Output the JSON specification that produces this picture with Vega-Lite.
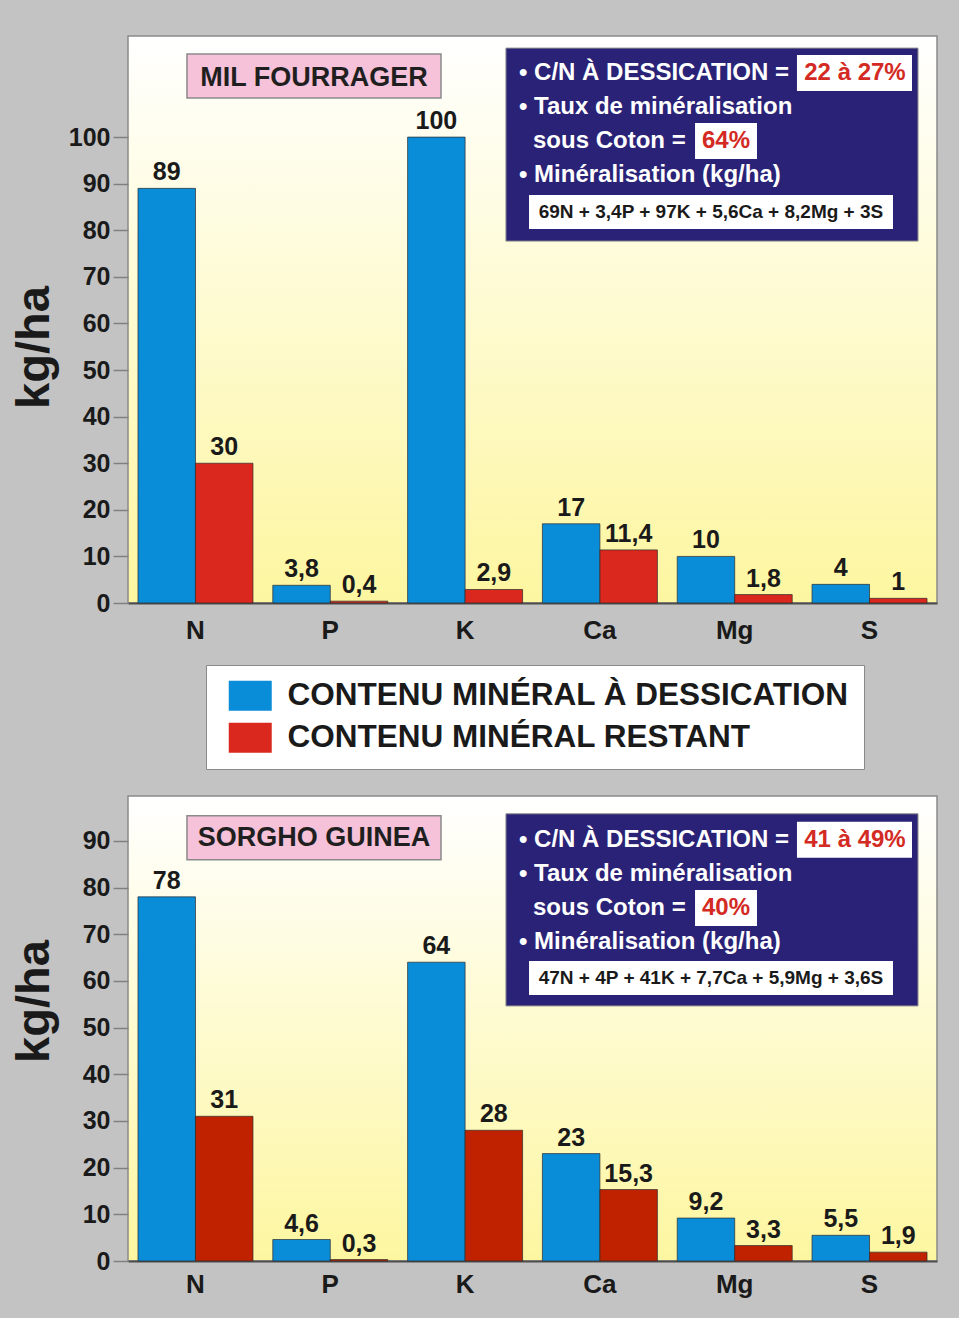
{
  "$schema": "https://vega.github.io/schema/vega-lite/v6.json",
  "background": "#c3c3c3",
  "padding": {"left": 9, "top": 35, "right": 22, "bottom": 22},
  "spacing": 193,
  "bounds": "flush",
  "config": {
    "view": {
      "fill": {"gradient": "linear", "x1": 0, "y1": 0, "x2": 0, "y2": 1,
        "stops": [{"offset": 0, "color": "#ffffff"}, {"offset": 1, "color": "#fdf6a0"}]},
      "stroke": "#8a8a8a", "strokeWidth": 1.5
    },
    "axis": {"labelFont": "Liberation Sans", "labelFontWeight": "bold", "labelColor": "#1a1a1a", "titleFont": "Liberation Sans", "titleColor": "#1a1a1a", "grid": false},
    "locale": {"number": {"decimal": ",", "thousands": " ", "grouping": [3], "currency": ["", " €"]}}
  },
  "datasets": {
    "top": [
      {"el": "N", "serie": "CONTENU MINÉRAL À DESSICATION", "v": 89},
      {"el": "N", "serie": "CONTENU MINÉRAL RESTANT", "v": 30},
      {"el": "P", "serie": "CONTENU MINÉRAL À DESSICATION", "v": 3.8},
      {"el": "P", "serie": "CONTENU MINÉRAL RESTANT", "v": 0.4},
      {"el": "K", "serie": "CONTENU MINÉRAL À DESSICATION", "v": 100},
      {"el": "K", "serie": "CONTENU MINÉRAL RESTANT", "v": 2.9},
      {"el": "Ca", "serie": "CONTENU MINÉRAL À DESSICATION", "v": 17},
      {"el": "Ca", "serie": "CONTENU MINÉRAL RESTANT", "v": 11.4},
      {"el": "Mg", "serie": "CONTENU MINÉRAL À DESSICATION", "v": 10},
      {"el": "Mg", "serie": "CONTENU MINÉRAL RESTANT", "v": 1.8},
      {"el": "S", "serie": "CONTENU MINÉRAL À DESSICATION", "v": 4},
      {"el": "S", "serie": "CONTENU MINÉRAL RESTANT", "v": 1}
    ],
    "bottom": [
      {"el": "N", "serie": "CONTENU MINÉRAL À DESSICATION", "v": 78},
      {"el": "N", "serie": "CONTENU MINÉRAL RESTANT", "v": 31},
      {"el": "P", "serie": "CONTENU MINÉRAL À DESSICATION", "v": 4.6},
      {"el": "P", "serie": "CONTENU MINÉRAL RESTANT", "v": 0.3},
      {"el": "K", "serie": "CONTENU MINÉRAL À DESSICATION", "v": 64},
      {"el": "K", "serie": "CONTENU MINÉRAL RESTANT", "v": 28},
      {"el": "Ca", "serie": "CONTENU MINÉRAL À DESSICATION", "v": 23},
      {"el": "Ca", "serie": "CONTENU MINÉRAL RESTANT", "v": 15.3},
      {"el": "Mg", "serie": "CONTENU MINÉRAL À DESSICATION", "v": 9.2},
      {"el": "Mg", "serie": "CONTENU MINÉRAL RESTANT", "v": 3.3},
      {"el": "S", "serie": "CONTENU MINÉRAL À DESSICATION", "v": 5.5},
      {"el": "S", "serie": "CONTENU MINÉRAL RESTANT", "v": 1.9}
    ],
    "pinkTop": [{"x1": 7.29, "x2": 38.69, "y1": 117.81, "y2": 108.37, "tx": 22.99, "ty": 112.66, "t": "MIL FOURRAGER"}],
    "navyTop": [{"x1": 46.72, "x2": 97.65, "y1": 119.1, "y2": 77.68}],
    "whiteTop": [
      {"x1": 82.69, "x2": 96.91, "y1": 117.6, "y2": 109.87},
      {"x1": 70.09, "x2": 77.75, "y1": 103.0, "y2": 95.28},
      {"x1": 49.57, "x2": 94.56, "y1": 87.55, "y2": 80.26}
    ],
    "linesTop": [
      {"tx": 48.33, "ty": 113.73, "t": "• C/N À DESSICATION ="},
      {"tx": 48.33, "ty": 106.44, "t": "• Taux de minéralisation"},
      {"tx": 50.06, "ty": 99.14, "t": "sous Coton ="},
      {"tx": 48.33, "ty": 91.85, "t": "• Minéralisation (kg/ha)"}
    ],
    "redTop": [
      {"tx": 89.86, "ty": 113.73, "t": "22 à 27%"},
      {"tx": 73.92, "ty": 99.14, "t": "64%"}
    ],
    "formulaTop": [{"tx": 72.06, "ty": 83.91, "t": "69N + 3,4P + 97K + 5,6Ca + 8,2Mg + 3S"}],
    "pinkBot": [{"x1": 7.29, "x2": 38.69, "y1": 95.35, "y2": 85.92, "tx": 22.99, "ty": 90.64, "t": "SORGHO GUINEA"}],
    "navyBot": [{"x1": 46.72, "x2": 97.65, "y1": 95.78, "y2": 54.64}],
    "whiteBot": [
      {"x1": 82.69, "x2": 96.91, "y1": 94.06, "y2": 86.35},
      {"x1": 70.09, "x2": 77.75, "y1": 79.49, "y2": 71.78},
      {"x1": 49.57, "x2": 94.56, "y1": 64.28, "y2": 57.0}
    ],
    "linesBot": [
      {"tx": 48.33, "ty": 90.21, "t": "• C/N À DESSICATION ="},
      {"tx": 48.33, "ty": 82.92, "t": "• Taux de minéralisation"},
      {"tx": 50.06, "ty": 75.64, "t": "sous Coton ="},
      {"tx": 48.33, "ty": 68.35, "t": "• Minéralisation (kg/ha)"}
    ],
    "redBot": [
      {"tx": 89.86, "ty": 90.21, "t": "41 à 49%"},
      {"tx": 73.92, "ty": 75.64, "t": "40%"}
    ],
    "formulaBot": [{"tx": 72.06, "ty": 60.64, "t": "47N + 4P + 41K + 7,7Ca + 5,9Mg + 3,6S"}]
  },
  "vconcat": [
    {
      "width": 809,
      "height": 567,
      "resolve": {"scale": {"x": "independent"}},
      "layer": [
        {
          "data": {"name": "top"},
          "layer": [
            {
              "mark": {"type": "bar", "stroke": "#2b2b2b", "strokeWidth": 0.7},
              "encoding": {
                "x": {"field": "el", "type": "nominal", "sort": null, "scale": {"paddingInner": 0.147, "paddingOuter": 0.074},
                  "axis": {"title": null, "labelFontSize": 26, "labelPadding": 14, "ticks": false, "tickSize": 0, "labelAngle": 0, "domain": true, "domainColor": "#4d4d4d", "domainWidth": 2}},
                "xOffset": {"field": "serie", "type": "nominal", "sort": null},
                "y": {"field": "v", "type": "quantitative", "scale": {"domain": [0, 121.7], "nice": false},
                  "axis": {"values": [0, 10, 20, 30, 40, 50, 60, 70, 80, 90, 100], "labelFontSize": 25, "labelPadding": 3, "tickSize": 15, "tickColor": "#808080", "tickWidth": 1.5, "domain": false,
                    "title": "kg/ha", "titleFontSize": 47, "titleFontWeight": "bold", "titleAngle": 270, "titleBaseline": "bottom", "titleAlign": "center", "titleX": -70, "titleY": 311}},
                "color": {"field": "serie", "type": "nominal", "sort": null,
                  "scale": {"domain": ["CONTENU MINÉRAL À DESSICATION", "CONTENU MINÉRAL RESTANT"], "range": ["#0a8dd8", "#da281e"]},
                  "legend": {"orient": "none", "legendX": 78, "legendY": 629, "title": null, "fillColor": "#ffffff", "strokeColor": "#8a8a8a", "padding": 15,
                    "symbolType": "M-0.533,-1H2.333V1H-0.533Z", "symbolSize": 900, "symbolStrokeWidth": 0, "symbolOpacity": 1,
                    "labelFont": "Liberation Sans", "labelFontWeight": "bold", "labelFontSize": 31.5, "labelColor": "#1a1a1a", "labelOffset": 35, "labelLimit": 800, "rowPadding": 9}}
              }
            },
            {
              "mark": {"type": "text", "baseline": "bottom", "dy": -3, "font": "Liberation Sans", "fontSize": 25, "fontWeight": "bold", "color": "#1a1a1a"},
              "encoding": {
                "x": {"field": "el", "type": "nominal", "sort": null},
                "xOffset": {"field": "serie", "type": "nominal", "sort": null},
                "y": {"field": "v", "type": "quantitative"},
                "text": {"field": "v", "type": "quantitative", "format": ".3~g"}
              }
            }
          ]
        },
        {
          "layer": [
            {
              "data": {"name": "pinkTop"},
              "mark": {"type": "rect", "fill": "#f6c2d9", "stroke": "#8a8a8a", "strokeWidth": 1.5},
              "encoding": {
                "x": {"field": "x1", "type": "quantitative", "scale": {"domain": [0, 100], "nice": false, "zero": false}, "axis": null},
                "x2": {"field": "x2"},
                "y": {"field": "y1", "type": "quantitative"},
                "y2": {"field": "y2"}
              }
            },
            {
              "data": {"name": "pinkTop"},
              "mark": {"type": "text", "font": "Liberation Sans", "fontSize": 27, "fontWeight": "bold", "color": "#1f1f1f", "align": "center", "baseline": "middle"},
              "encoding": {
                "x": {"field": "tx", "type": "quantitative", "axis": null},
                "y": {"field": "ty", "type": "quantitative"},
                "text": {"field": "t"}
              }
            },
            {
              "data": {"name": "navyTop"},
              "mark": {"type": "rect", "fill": "#2a2277", "stroke": "#8a8a8a", "strokeWidth": 1},
              "encoding": {
                "x": {"field": "x1", "type": "quantitative", "axis": null},
                "x2": {"field": "x2"},
                "y": {"field": "y1", "type": "quantitative"},
                "y2": {"field": "y2"}
              }
            },
            {
              "data": {"name": "whiteTop"},
              "mark": {"type": "rect", "fill": "#ffffff"},
              "encoding": {
                "x": {"field": "x1", "type": "quantitative", "axis": null},
                "x2": {"field": "x2"},
                "y": {"field": "y1", "type": "quantitative"},
                "y2": {"field": "y2"}
              }
            },
            {
              "data": {"name": "linesTop"},
              "mark": {"type": "text", "font": "Liberation Sans", "fontSize": 24, "fontWeight": "bold", "color": "#ffffff", "align": "left", "baseline": "middle"},
              "encoding": {
                "x": {"field": "tx", "type": "quantitative", "axis": null},
                "y": {"field": "ty", "type": "quantitative"},
                "text": {"field": "t"}
              }
            },
            {
              "data": {"name": "redTop"},
              "mark": {"type": "text", "font": "Liberation Sans", "fontSize": 24, "fontWeight": "bold", "color": "#d42a24", "align": "center", "baseline": "middle"},
              "encoding": {
                "x": {"field": "tx", "type": "quantitative", "axis": null},
                "y": {"field": "ty", "type": "quantitative"},
                "text": {"field": "t"}
              }
            },
            {
              "data": {"name": "formulaTop"},
              "mark": {"type": "text", "font": "Liberation Sans", "fontSize": 19, "fontWeight": "bold", "color": "#1a1a1a", "align": "center", "baseline": "middle"},
              "encoding": {
                "x": {"field": "tx", "type": "quantitative", "axis": null},
                "y": {"field": "ty", "type": "quantitative"},
                "text": {"field": "t"}
              }
            }
          ]
        }
      ]
    },
    {
      "width": 809,
      "height": 465,
      "resolve": {"scale": {"x": "independent"}},
      "layer": [
        {
          "data": {"name": "bottom"},
          "layer": [
            {
              "mark": {"type": "bar", "stroke": "#2b2b2b", "strokeWidth": 0.7},
              "encoding": {
                "x": {"field": "el", "type": "nominal", "sort": null, "scale": {"paddingInner": 0.147, "paddingOuter": 0.074},
                  "axis": {"title": null, "labelFontSize": 26, "labelPadding": 10, "ticks": false, "tickSize": 0, "labelAngle": 0, "domain": true, "domainColor": "#4d4d4d", "domainWidth": 2}},
                "xOffset": {"field": "serie", "type": "nominal", "sort": null},
                "y": {"field": "v", "type": "quantitative", "scale": {"domain": [0, 99.6], "nice": false},
                  "axis": {"values": [0, 10, 20, 30, 40, 50, 60, 70, 80, 90], "labelFontSize": 25, "labelPadding": 3, "tickSize": 15, "tickColor": "#808080", "tickWidth": 1.5, "domain": false,
                    "title": "kg/ha", "titleFontSize": 47, "titleFontWeight": "bold", "titleAngle": 270, "titleBaseline": "bottom", "titleAlign": "center", "titleX": -70, "titleY": 205}},
                "color": {"field": "serie", "type": "nominal", "sort": null,
                  "scale": {"domain": ["CONTENU MINÉRAL À DESSICATION", "CONTENU MINÉRAL RESTANT"], "range": ["#0a8dd8", "#c02200"]},
                  "legend": null}
              }
            },
            {
              "mark": {"type": "text", "baseline": "bottom", "dy": -3, "font": "Liberation Sans", "fontSize": 25, "fontWeight": "bold", "color": "#1a1a1a"},
              "encoding": {
                "x": {"field": "el", "type": "nominal", "sort": null},
                "xOffset": {"field": "serie", "type": "nominal", "sort": null},
                "y": {"field": "v", "type": "quantitative"},
                "text": {"field": "v", "type": "quantitative", "format": ".3~g"}
              }
            }
          ]
        },
        {
          "layer": [
            {
              "data": {"name": "pinkBot"},
              "mark": {"type": "rect", "fill": "#f6c2d9", "stroke": "#8a8a8a", "strokeWidth": 1.5},
              "encoding": {
                "x": {"field": "x1", "type": "quantitative", "scale": {"domain": [0, 100], "nice": false, "zero": false}, "axis": null},
                "x2": {"field": "x2"},
                "y": {"field": "y1", "type": "quantitative"},
                "y2": {"field": "y2"}
              }
            },
            {
              "data": {"name": "pinkBot"},
              "mark": {"type": "text", "font": "Liberation Sans", "fontSize": 27, "fontWeight": "bold", "color": "#1f1f1f", "align": "center", "baseline": "middle"},
              "encoding": {
                "x": {"field": "tx", "type": "quantitative", "axis": null},
                "y": {"field": "ty", "type": "quantitative"},
                "text": {"field": "t"}
              }
            },
            {
              "data": {"name": "navyBot"},
              "mark": {"type": "rect", "fill": "#2a2277", "stroke": "#8a8a8a", "strokeWidth": 1},
              "encoding": {
                "x": {"field": "x1", "type": "quantitative", "axis": null},
                "x2": {"field": "x2"},
                "y": {"field": "y1", "type": "quantitative"},
                "y2": {"field": "y2"}
              }
            },
            {
              "data": {"name": "whiteBot"},
              "mark": {"type": "rect", "fill": "#ffffff"},
              "encoding": {
                "x": {"field": "x1", "type": "quantitative", "axis": null},
                "x2": {"field": "x2"},
                "y": {"field": "y1", "type": "quantitative"},
                "y2": {"field": "y2"}
              }
            },
            {
              "data": {"name": "linesBot"},
              "mark": {"type": "text", "font": "Liberation Sans", "fontSize": 24, "fontWeight": "bold", "color": "#ffffff", "align": "left", "baseline": "middle"},
              "encoding": {
                "x": {"field": "tx", "type": "quantitative", "axis": null},
                "y": {"field": "ty", "type": "quantitative"},
                "text": {"field": "t"}
              }
            },
            {
              "data": {"name": "redBot"},
              "mark": {"type": "text", "font": "Liberation Sans", "fontSize": 24, "fontWeight": "bold", "color": "#d42a24", "align": "center", "baseline": "middle"},
              "encoding": {
                "x": {"field": "tx", "type": "quantitative", "axis": null},
                "y": {"field": "ty", "type": "quantitative"},
                "text": {"field": "t"}
              }
            },
            {
              "data": {"name": "formulaBot"},
              "mark": {"type": "text", "font": "Liberation Sans", "fontSize": 19, "fontWeight": "bold", "color": "#1a1a1a", "align": "center", "baseline": "middle"},
              "encoding": {
                "x": {"field": "tx", "type": "quantitative", "axis": null},
                "y": {"field": "ty", "type": "quantitative"},
                "text": {"field": "t"}
              }
            }
          ]
        }
      ]
    }
  ],
  "resolve": {"scale": {"color": "independent"}}
}
